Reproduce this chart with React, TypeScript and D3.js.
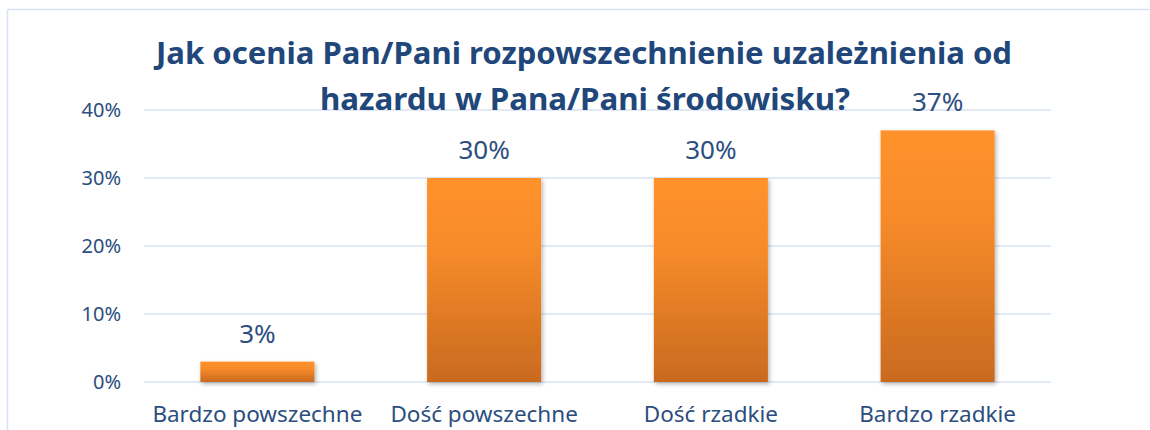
import React from "react";
import * as d3 from "d3";

const categories = ["Bardzo powszechne", "Dość powszechne", "Dość rzadkie", "Bardzo rzadkie"];
const values = [3, 30, 30, 37];
const yTicks = [0, 10, 20, 30, 40];
const titleLines = [
  "Jak ocenia Pan/Pani rozpowszechnienie uzależnienia od",
  "hazardu w Pana/Pani środowisku?",
];

const W = 1150;
const H = 430;
const FONT = "'Noto Sans', 'DejaVu Sans', sans-serif";
const TEXT = "#2B4E7F";
const TITLE = "#21477A";
const GRID = "#D6E2F2";

export default function App() {
  const x = d3.scaleBand<string>().domain(categories).range([144, 1051]).paddingInner(0.497).paddingOuter(0.2485);
  const y = d3.scaleLinear().domain([0, 40]).range([382, 110]);

  return (
    <svg
      width={W}
      height={H}
      style={{ position: "absolute", left: 0, top: 0, display: "block", background: "#fff" }}
      fontFamily={FONT}
    >
      <defs>
        <linearGradient id="barGrad" x1="0" y1="0" x2="0" y2="1">
          <stop offset="0%" stopColor="#FF922C" />
          <stop offset="35%" stopColor="#F78B2A" />
          <stop offset="100%" stopColor="#C96A1F" />
        </linearGradient>
        <filter id="shadow" x="-10%" y="-10%" width="130%" height="130%">
          <feDropShadow dx="1.5" dy="2" stdDeviation="2" floodColor="#000" floodOpacity="0.3" />
        </filter>
      </defs>

      {/* outer frame */}
      <line x1={7.5} x2={W} y1={9.5} y2={9.5} stroke={GRID} strokeWidth={1.5} />
      <line x1={7.5} x2={7.5} y1={9.5} y2={H} stroke={GRID} strokeWidth={1.5} />

      {/* gridlines */}
      {yTicks.map((t) => (
        <line key={"g" + t} x1={144} x2={1051} y1={y(t)} y2={y(t)} stroke={GRID} strokeWidth={1.5} />
      ))}

      {/* y tick labels */}
      {yTicks.map((t) => (
        <text key={"t" + t} x={121} y={y(t) + 7} textAnchor="end" fontSize={20} fill={TEXT}>
          {t + "%"}
        </text>
      ))}

      {/* bars */}
      {categories.map((c, i) => (
        <rect
          key={"b" + c}
          x={x(c)}
          y={y(values[i])}
          width={x.bandwidth()}
          height={y(0) - y(values[i])}
          fill="url(#barGrad)"
          filter="url(#shadow)"
        />
      ))}

      {/* value labels */}
      {categories.map((c, i) => (
        <text
          key={"v" + c}
          x={(x(c) as number) + x.bandwidth() / 2}
          y={y(values[i]) - 19}
          textAnchor="middle"
          fontSize={26}
          fill={TEXT}
        >
          {values[i] + "%"}
        </text>
      ))}

      {/* category labels */}
      {categories.map((c) => (
        <text
          key={"c" + c}
          x={(x(c) as number) + x.bandwidth() / 2}
          y={422}
          textAnchor="middle"
          fontSize={22.5}
          fill={TEXT}
        >
          {c}
        </text>
      ))}

      {/* title */}
      <text x={584} y={64} textAnchor="middle" fontSize={31} fontWeight="bold" fill={TITLE}
        textLength={856} lengthAdjust="spacingAndGlyphs">
        {titleLines[0]}
      </text>
      <text x={585} y={110} textAnchor="middle" fontSize={31} fontWeight="bold" fill={TITLE}
        textLength={530} lengthAdjust="spacingAndGlyphs">
        {titleLines[1]}
      </text>
    </svg>
  );
}
